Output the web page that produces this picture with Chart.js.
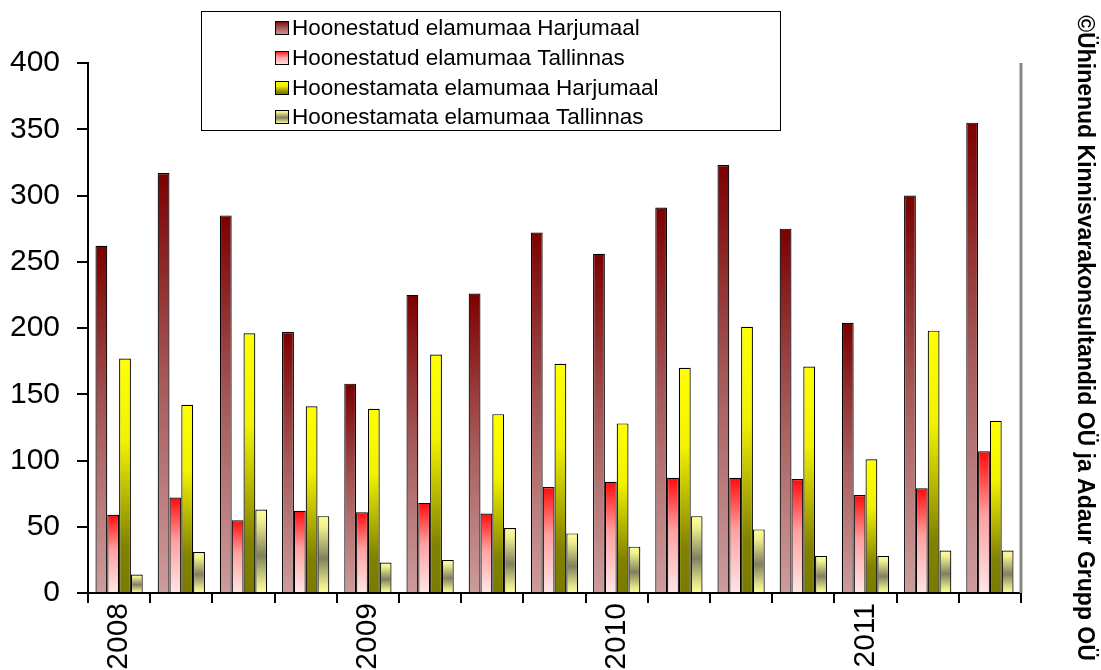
<!DOCTYPE html>
<html>
<head>
<meta charset="utf-8">
<script src="https://cdn.jsdelivr.net/npm/chart.js@4/dist/chart.umd.min.js"></script>
<style>
  html, body { margin: 0; padding: 0; background: #fff; }
  #wrap { width: 1101px; height: 670px; }
</style>
</head>
<body>
<div id="wrap"><canvas id="c" width="1101" height="670"></canvas></div>
<script>
// Quarterly transactions 2008 I – 2011 III; only the first quarter of each year carries a label
const categories = ['2008', '', '', '', '2009', '', '', '', '2010', '', '', '', '2011', '', ''];

const seriesNames = [
  'Hoonestatud elamumaa Harjumaal',
  'Hoonestatud elamumaa Tallinnas',
  'Hoonestamata elamumaa Harjumaal',
  'Hoonestamata elamumaa Tallinnas'
];

const builtHarju     = [262, 317, 285, 197, 158, 225, 226, 272, 256, 291, 323, 275, 204, 300, 355];
const builtTallinn   = [59, 72, 55, 62, 61, 68, 60, 80, 84, 87, 87, 86, 74, 79, 107];
const vacantHarju    = [177, 142, 196, 141, 139, 180, 135, 173, 128, 170, 201, 171, 101, 198, 130];
const vacantTallinn  = [14, 31, 63, 58, 23, 25, 49, 45, 35, 58, 48, 28, 28, 32, 32];

const yTicks = [0, 50, 100, 150, 200, 250, 300, 350, 400];

const copyright = '©Ühinenud Kinnisvarakonsultandid OÜ ja Adaur Grupp OÜ';

// vertical colour ramps, top of bar (0) to its base (1)
const ramps = [
  [[0, '#7c0000'], [0.5, '#a65a5a'], [1, '#cd9c9c']],
  [[0, '#ff0a0a'], [0.45, '#ffa0a0'], [1, '#ffe6e6']],
  [[0, '#ffff00'], [0.35, '#f2f200'], [0.8, '#828200'], [1, '#7a7a00']],
  [[0, '#ffff99'], [0.15, '#eeee8e'], [0.55, '#80805e'], [0.88, '#e6e68c'], [1, '#ffff99']]
];

function fillRamp(g, stops) {
  stops.forEach(([o, c]) => g.addColorStop(o, c));
  return g;
}

function barFill(stops) {
  return (ctx) => {
    const chart = ctx.chart;
    if (!chart.chartArea || ctx.type !== 'data') return stops[0][1];
    const y = chart.scales.y;
    const top = y.getPixelForValue(ctx.raw);
    const base = y.getPixelForValue(0);
    if (!isFinite(top) || !isFinite(base) || base - top < 1) return stops[0][1];
    return fillRamp(chart.ctx.createLinearGradient(0, top, 0, base), stops);
  };
}

const FONT = '"Liberation Sans", Arial, sans-serif';

// boxed legend sitting over the upper part of the plot
const boxLegend = {
  id: 'boxLegend',
  afterDraw(chart) {
    const ctx = chart.ctx;
    ctx.save();
    ctx.fillStyle = '#fff';
    ctx.fillRect(201, 11, 579, 119);
    ctx.strokeStyle = '#000';
    ctx.lineWidth = 1;
    ctx.strokeRect(201.5, 11.5, 579, 119);
    ctx.font = '22.5px ' + FONT;
    ctx.textBaseline = 'alphabetic';
    ctx.textAlign = 'left';
    const baselines = [35, 65, 95, 124];
    chart.data.datasets.forEach((ds, i) => {
      const by = baselines[i];
      const sy = by - 14;
      const g = fillRamp(ctx.createLinearGradient(0, sy, 0, sy + 14), ramps[i]);
      ctx.fillStyle = g;
      ctx.fillRect(275, sy, 14, 14);
      ctx.strokeStyle = '#000';
      ctx.lineWidth = 1;
      ctx.strokeRect(275.5, sy + 0.5, 13, 13);
      ctx.fillStyle = '#000';
      ctx.fillText(ds.label, 292, by);
    });
    ctx.restore();
  }
};

// grey frame line on the right edge and the rotated copyright note
const frameAndNote = {
  id: 'frameAndNote',
  afterDraw(chart) {
    const { ctx, chartArea } = chart;
    ctx.save();
    ctx.strokeStyle = '#888';
    ctx.lineWidth = 3;
    ctx.beginPath();
    ctx.moveTo(chartArea.right, chartArea.top);
    ctx.lineTo(chartArea.right, chartArea.bottom);
    ctx.stroke();

    ctx.translate(1084, 338);
    ctx.rotate(Math.PI / 2);
    ctx.font = 'bold 23px ' + FONT;
    ctx.fillStyle = '#000';
    ctx.textAlign = 'center';
    ctx.textBaseline = 'middle';
    ctx.fillText(copyright, 0, 0);
    ctx.restore();
  }
};

const values = [builtHarju, builtTallinn, vacantHarju, vacantTallinn];

new Chart(document.getElementById('c'), {
  type: 'bar',
  data: {
    labels: categories,
    datasets: values.map((v, i) => ({
      label: seriesNames[i],
      data: v,
      backgroundColor: barFill(ramps[i]),
      borderColor: '#000',
      borderWidth: 1.2,
      borderSkipped: 'bottom',
      categoryPercentage: 0.76,
      barPercentage: 1.0
    }))
  },
  options: {
    responsive: false,
    animation: false,
    layout: { padding: { top: 63, right: 80, left: 0, bottom: 0 } },
    plugins: {
      legend: { display: false },
      title: { display: false },
      tooltip: { enabled: false }
    },
    scales: {
      x: {
        offset: true,
        border: { color: '#000', width: 2 },
        grid: {
          offset: true,
          drawOnChartArea: false,
          drawTicks: true,
          tickLength: 10,
          color: '#000',
          lineWidth: 2
        },
        ticks: {
          autoSkip: false,
          minRotation: 90,
          maxRotation: 90,
          padding: 0,
          color: '#000',
          font: { family: FONT, size: 30 }
        },
        afterFit(scale) { scale.height = 77; }
      },
      y: {
        min: 0,
        max: 400,
        border: { color: '#000', width: 2 },
        grid: {
          drawOnChartArea: false,
          drawTicks: true,
          tickLength: 11,
          color: '#000',
          lineWidth: 2
        },
        afterBuildTicks(scale) { scale.ticks = yTicks.map(v => ({ value: v })); },
        ticks: {
          padding: 17,
          color: '#000',
          font: { family: FONT, size: 30 }
        },
        afterFit(scale) { scale.width = 88; }
      }
    }
  },
  plugins: [boxLegend, frameAndNote]
});
</script>
</body>
</html>
